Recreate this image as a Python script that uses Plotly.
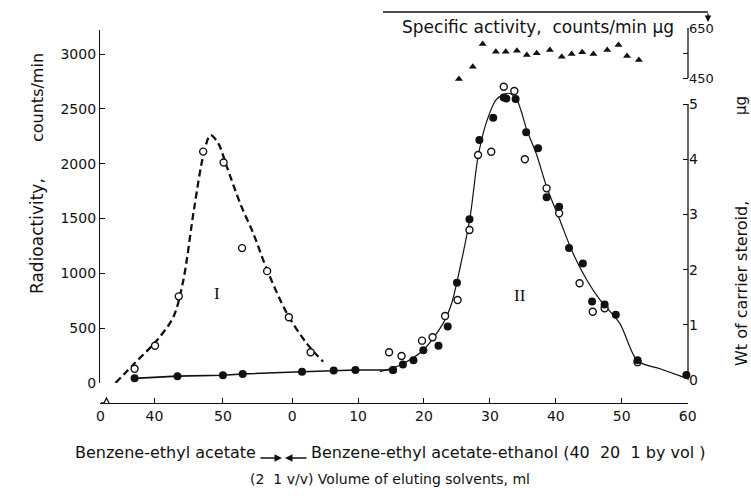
import plotly.graph_objects as go

# ---------------- data ----------------
# x: continuous elution position in ml. First solvent (benzene-ethyl acetate) uses its own volume,
# second solvent (benzene-ethyl acetate-ethanol) is plotted at 60 + its volume.
x_tick_vals = [30.9, 39.1, 49.5, 60, 70, 80, 90, 100, 110, 120]
x_tick_text = ["0", "40", "50", "0", "10", "20", "30", "40", "50", "60"]

# Peak I: radioactivity (open circles), counts/min
p1_open_x = [36.1, 39.2, 42.8, 46.5, 49.6, 52.4, 56.2, 59.5, 62.8]
p1_open_y = [130, 340, 790, 2110, 2010, 1230, 1020, 600, 280]

# Peak I fitted curve (dashed), counts/min
p1_curve_x = [33.2, 36.1, 39.5, 42.0, 43.5, 45.1, 46.6, 47.6, 48.8, 50.1, 52.1, 54.1, 56.2, 59.2, 62.2, 64.7]
p1_curve_y = [0, 180, 390, 605, 940, 1580, 2095, 2260, 2185, 1970, 1640, 1365, 1030, 636, 362, 194]

# Baseline carrier steroid (filled circles), ug
base_x = [36.1, 42.6, 49.5, 52.5, 61.5, 66.3, 69.6, 75.3]
base_y = [0.03, 0.07, 0.085, 0.11, 0.15, 0.17, 0.18, 0.18]

# Peak II: radioactivity (open circles), counts/min
p2_open_x = [74.7, 76.6, 79.7, 81.3, 83.2, 85.1, 86.9, 88.2, 90.2, 92.1, 93.7, 95.3,
             98.6, 100.5, 103.6, 105.6, 107.4, 112.4]
p2_open_y = [280, 246, 386, 417, 611, 757, 1395, 2079, 2109, 2702, 2662, 2040,
             1775, 1547, 909, 650, 681, 190]

# Peak II: weight of carrier steroid (filled circles), ug
p2_fill_x = [75.3, 76.8, 78.4, 79.9, 82.2, 83.6, 85.0, 86.9, 88.4, 90.5, 92.1, 92.5,
             93.9, 95.5, 97.3, 98.6, 100.5, 102.0, 104.1, 105.5, 107.4, 109.1, 112.4, 119.8]
p2_fill_y = [0.18, 0.28, 0.36, 0.54, 0.62, 0.97, 1.76, 2.91, 4.35, 4.75, 5.12, 5.10,
             5.09, 4.49, 4.20, 3.31, 3.14, 2.39, 2.11, 1.42, 1.37, 1.18, 0.36, 0.09]

# Peak II fitted curve (solid), counts/min
p2_curve_x = [73.3, 76.4, 79.9, 82.9, 84.2, 85.5, 87.0, 88.2, 89.5, 91.0, 92.8, 94.1,
              95.6, 97.1, 98.6, 100.6, 102.6, 104.7, 106.7, 109.7, 112.4, 115.8, 119.8]
p2_curve_y = [103, 164, 301, 544, 727, 1060, 1516, 2063, 2383, 2587, 2642, 2580,
              2307, 2079, 1790, 1486, 1183, 939, 757, 544, 200, 130, 45]

# Specific activity (triangles), counts/min per ug
sa_x = [85.3, 87.4, 88.9, 90.9, 92.4, 94.1, 95.6, 97.1, 99.1, 100.9, 102.4, 104.0,
        105.7, 107.8, 109.5, 110.8, 112.6]
sa_y = [446, 495, 586, 555, 555, 559, 542, 549, 562, 535, 546, 553, 546, 562, 582, 538, 522]

cpm_ticks = [0, 500, 1000, 1500, 2000, 2500, 3000]
ug_ticks = [0, 1, 2, 3, 4, 5]
sa_ticks = [450, 550, 650]
sa_tick_text = ["450", "", "650"]

# ---------------- figure ----------------
W, H = 751, 498
ML, MR, MT, MB = 100, 63, 10, 95
PW, PH = W - ML - MR, H - MT - MB


def px(xp):
    return (xp - ML) / PW


def py(yp):
    return (H - MB - yp) / PH


FONT = "DejaVu Sans, Verdana, sans-serif"
BLACK = "#111111"

fig = go.Figure()

fig.add_trace(go.Scatter(x=p1_curve_x, y=p1_curve_y, mode="lines", xaxis="x", yaxis="y",
                         line=dict(color=BLACK, width=2.3, dash="7px,4px", shape="spline", smoothing=0.9),
                         hoverinfo="skip", showlegend=False))
fig.add_trace(go.Scatter(x=p2_curve_x, y=p2_curve_y, mode="lines", xaxis="x", yaxis="y",
                         line=dict(color=BLACK, width=1.2, shape="spline", smoothing=0.8),
                         hoverinfo="skip", showlegend=False))
fig.add_trace(go.Scatter(x=base_x, y=base_y, mode="lines+markers", xaxis="x", yaxis="y2",
                         line=dict(color=BLACK, width=1.6),
                         marker=dict(symbol="circle", size=8, color=BLACK),
                         cliponaxis=False, showlegend=False))
fig.add_trace(go.Scatter(x=p2_fill_x, y=p2_fill_y, mode="markers", xaxis="x", yaxis="y2",
                         marker=dict(symbol="circle", size=8, color=BLACK),
                         cliponaxis=False, showlegend=False))
fig.add_trace(go.Scatter(x=p1_open_x, y=p1_open_y, mode="markers", xaxis="x", yaxis="y",
                         marker=dict(symbol="circle", size=7, color="white", line=dict(width=1.4, color=BLACK)),
                         cliponaxis=False, showlegend=False))
fig.add_trace(go.Scatter(x=p2_open_x, y=p2_open_y, mode="markers", xaxis="x", yaxis="y",
                         marker=dict(symbol="circle", size=7, color="white", line=dict(width=1.4, color=BLACK)),
                         cliponaxis=False, showlegend=False))
fig.add_trace(go.Scatter(x=sa_x, y=sa_y, mode="markers", xaxis="x", yaxis="y3",
                         marker=dict(symbol="triangle-up", size=7, color=BLACK),
                         cliponaxis=False, showlegend=False))


def axis_common(size):
    return dict(showgrid=False, zeroline=False, color=BLACK, linecolor=BLACK,
                tickcolor=BLACK, tickfont=dict(family=FONT, size=size, color=BLACK))


# specific-activity axis: 450 at y=78 px, 650 at y=28 px; range extended a little below 450
SA_LO = 430
sa_px_per = (78 - 28) / (650 - 450)

fig.update_layout(
    width=W, height=H,
    margin=dict(l=ML, r=MR, t=MT, b=MB, autoexpand=False),
    paper_bgcolor="white", plot_bgcolor="rgba(0,0,0,0)",
    showlegend=False,
    xaxis=dict(range=[30.85, 120.05], anchor="free", position=0, showline=True, linewidth=1.3,
               ticks="inside", ticklen=5, tickwidth=1.2, tickvals=x_tick_vals, ticktext=x_tick_text,
               **axis_common(14)),
    yaxis=dict(domain=[py(383), py(30)], range=[0, (383 - 30) / ((383 - 54) / 3000)], anchor="x",
               showline=True, linewidth=1.3, ticks="inside", ticklen=5, tickwidth=1.2,
               tickvals=cpm_ticks, **axis_common(14)),
    yaxis2=dict(domain=[py(380), 1.0], range=[0, 5 * (1.0 - py(380)) / (py(104) - py(380))],
                anchor="x", side="right", showline=False, ticks="inside", ticklen=5, tickwidth=1.2,
                tickvals=ug_ticks, **axis_common(14)),
    yaxis3=dict(domain=[py(78 + (450 - SA_LO) * sa_px_per), py(28)], range=[SA_LO, 650], anchor="x",
                side="right", showline=False, ticks="inside", ticklen=5, tickwidth=1.2,
                tickvals=sa_ticks, ticktext=sa_tick_text, **axis_common(13)),
)

shapes = [
    # ug axis line (0 to 5)
    dict(type="line", xref="paper", yref="y2", x0=1, x1=1, y0=0, y1=5, line=dict(color=BLACK, width=1.3)),
    # specific activity axis line (450 to 650)
    dict(type="line", xref="paper", yref="y3", x0=1, x1=1, y0=450, y1=650, line=dict(color=BLACK, width=1.3)),
    # top arrow line
    dict(type="line", xref="paper", yref="paper", x0=px(383), x1=px(708), y0=py(12), y1=py(12),
         line=dict(color=BLACK, width=1.3)),
    # axis break mark at the start of the volume axis
    dict(type="path", xref="paper", yref="paper",
         path=f"M{px(101)},{py(403)} L{px(104)},{py(403)} L{px(106.5)},{py(398)} L{px(109)},{py(403)}",
         line=dict(color=BLACK, width=1.3)),
]
fig.update_layout(shapes=shapes)


def txt(text, x, y, size=15, family=FONT, xanchor="center", angle=0):
    return dict(text=text, x=px(x), y=py(y), xref="paper", yref="paper", showarrow=False,
                xanchor=xanchor, yanchor="middle", textangle=angle,
                font=dict(family=family, size=size, color=BLACK))


ann = [
    txt("Radioactivity,", 37, 236, size=17, angle=-90),
    txt("counts/min", 37, 98, size=16, angle=-90),
    txt("Wt of carrier steroid,", 741, 284, size=16, angle=-90),
    txt("\u03bcg", 741, 106, size=15, angle=-90),
    txt("Specific activity,\u00a0 counts/min \u03bcg", 538, 27, size=17),
    txt("I", 217, 293, size=17, family="Liberation Serif, serif"),
    txt("II", 520, 295, size=17, family="Liberation Serif, serif"),
    txt("Benzene-ethyl acetate", 258, 452, size=16, xanchor="right"),
    txt("Benzene-ethyl acetate-ethanol (40\u00a0 20\u00a0 1 by vol )", 309, 452, size=16, xanchor="left"),
    txt("(2\u00a0 1 v/v) Volume of eluting solvents, ml", 390, 479, size=14),
    # arrows
    dict(text="", x=px(282), y=py(458), xref="paper", yref="paper", showarrow=True, ax=-23, ay=0,
         arrowhead=2, arrowsize=1, arrowwidth=1.5, arrowcolor=BLACK),
    dict(text="", x=px(285), y=py(458), xref="paper", yref="paper", showarrow=True, ax=23, ay=0,
         arrowhead=2, arrowsize=1, arrowwidth=1.5, arrowcolor=BLACK),
    dict(text="", x=px(708), y=py(22), xref="paper", yref="paper", showarrow=True, ax=0, ay=-10,
         arrowhead=2, arrowsize=1, arrowwidth=1.3, arrowcolor=BLACK),
]
fig.update_layout(annotations=ann)

fig.write_html("out.html", config={"displayModeBar": False},
               post_script="document.body.style.margin='0';document.body.style.overflow='hidden';")
